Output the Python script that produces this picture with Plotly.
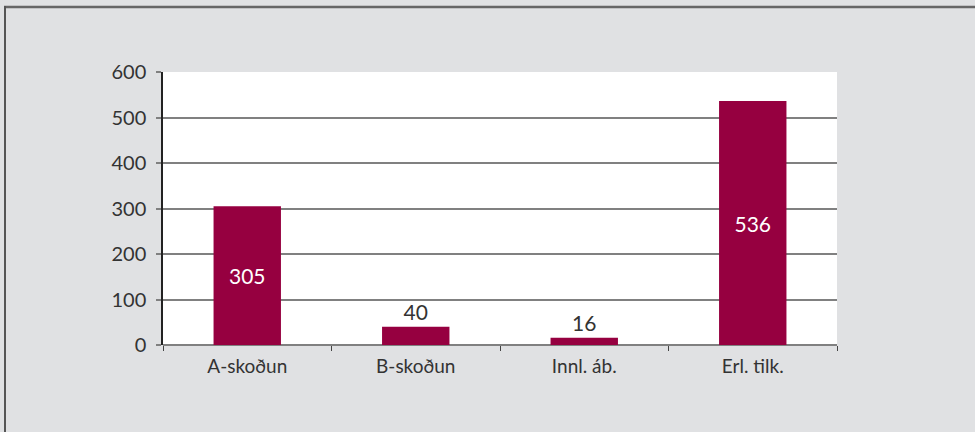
import plotly.graph_objects as go

categories = ["A-skoðun", "B-skoðun", "Innl. áb.", "Erl. tilk."]
values = [305, 40, 16, 536]
label_positions = ["inside", "outside", "outside", "inside"]
y_ticks = [0, 100, 200, 300, 400, 500, 600]

W, H = 975, 432
L, R, T, B = 163, 138, 72, 87
pw, ph = W - L - R, H - T - B

def px2x(p):
    return (p - L) / pw

def py2y(p):
    return 1 - (p - T) / ph

font_family = "Lato, 'Noto Sans', sans-serif"

fig = go.Figure(go.Bar(
    x=categories, y=values, width=0.4,
    marker=dict(color="#960040", line=dict(width=0)),
    text=[str(v) for v in values],
    textposition=label_positions,
    insidetextanchor="middle",
    insidetextfont=dict(color="white", size=21, family=font_family),
    outsidetextfont=dict(color="#333333", size=21, family=font_family),
    cliponaxis=False,
    hoverinfo="skip",
))

fig.update_layout(
    width=W, height=H,
    margin=dict(l=L, r=R, t=T, b=B, pad=0),
    paper_bgcolor="#e0e1e3",
    plot_bgcolor="white",
    showlegend=False,
    font=dict(family=font_family, size=19, color="#333333"),
    bargap=0.6,
    shapes=[
        dict(type="line", xref="paper", yref="paper",
             x0=px2x(4), x1=px2x(W + 5), y0=py2y(7), y1=py2y(7),
             line=dict(color="#666666", width=2.5)),
        dict(type="line", xref="paper", yref="paper",
             x0=px2x(5), x1=px2x(5), y0=py2y(6), y1=py2y(H + 5),
             line=dict(color="#555555", width=2)),
    ],
)
fig.update_xaxes(
    type="category", tickson="boundaries",
    ticks="outside", ticklen=5, tickcolor="#444444", tickwidth=1,
    showline=False, showgrid=False, zeroline=False,
    tickfont=dict(size=19, color="#333333"),
    ticklabelstandoff=8,
)
fig.update_yaxes(
    range=[0, 600], tickvals=y_ticks,
    ticks="outside", ticklen=5, tickcolor="#808080", tickwidth=1.5,
    showline=True, linecolor="#222222", linewidth=1.5,
    showgrid=True, gridcolor="#808080", gridwidth=1.5,
    zeroline=True, zerolinecolor="#808080", zerolinewidth=1.5,
    tickfont=dict(size=20, color="#333333"),
    ticklabelstandoff=6,
)

fig.write_html(
    "out.html",
    config={"displayModeBar": False},
    post_script="document.body.style.margin='0';document.body.style.overflow='hidden';",
)
